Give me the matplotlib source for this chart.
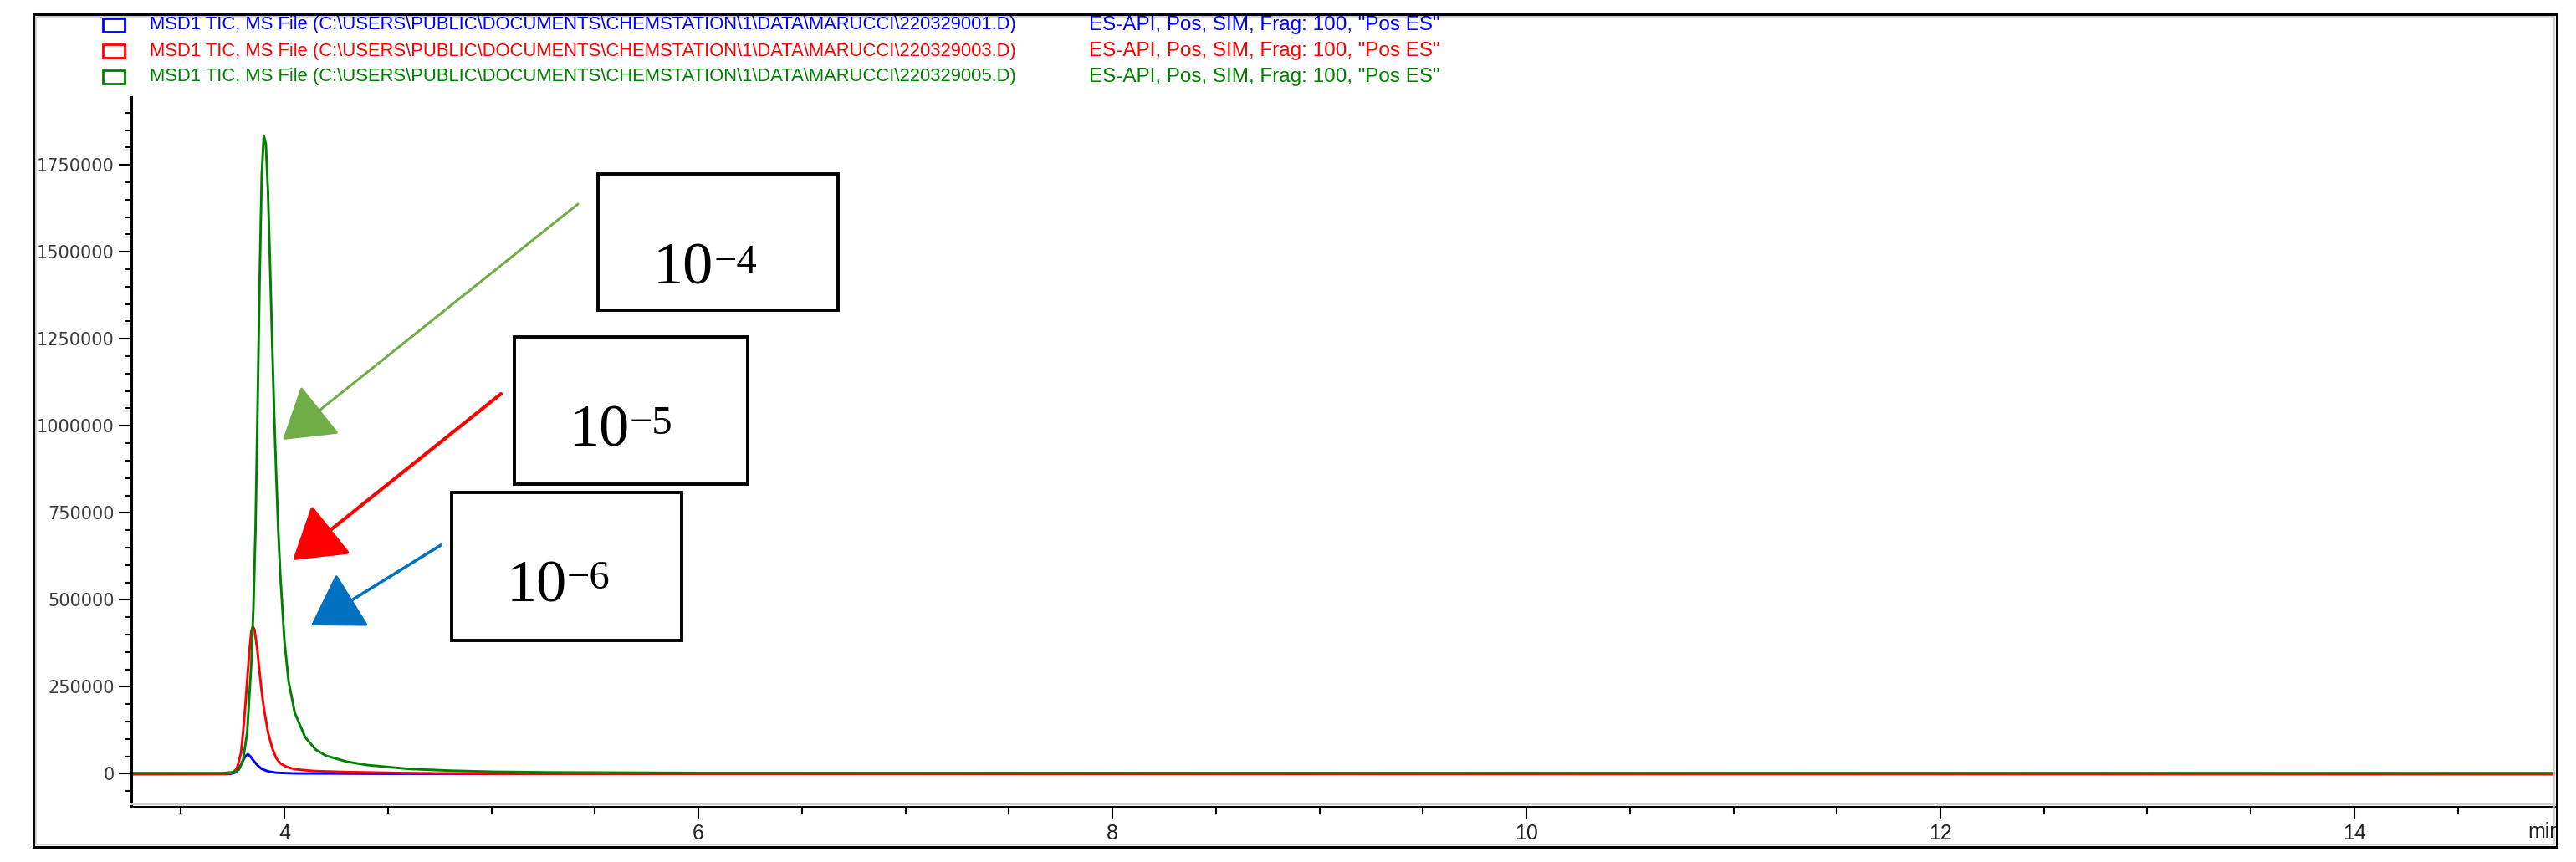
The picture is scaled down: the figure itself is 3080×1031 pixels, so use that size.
import matplotlib
matplotlib.use('Agg')
import matplotlib.pyplot as plt
from matplotlib.patches import Rectangle, FancyArrowPatch
from matplotlib.lines import Line2D
from matplotlib.ticker import MultipleLocator, FuncFormatter
from matplotlib.transforms import Bbox

t_blue = [3.25, 3.74, 3.76, 3.78, 3.80, 3.81, 3.823, 3.835, 3.85, 3.87, 3.89, 3.92, 3.96, 4.05, 4.5, 15.0]
i_blue = [0, 0, 3000, 15000, 38000, 50000, 56600, 50000, 38000, 24000, 14000, 7000, 3000, 1000, 0, 0]

t_red = [3.25, 3.72, 3.75, 3.77, 3.79, 3.80, 3.81, 3.82, 3.83, 3.84, 3.847, 3.855, 3.87, 3.88, 3.89,
         3.90, 3.92, 3.94, 3.96, 3.98, 4.01, 4.05, 4.14, 4.30, 4.60, 5.00, 15.0]
i_red = [-1500, -1000, 3000, 15000, 60000, 120000, 190000, 270000, 350000, 410000, 423000, 415000, 350000,
         290000, 235000, 190000, 120000, 75000, 45000, 30000, 20000, 13000, 8000, 5000, 2000, 0, -1500]

t_green = [3.25, 3.70, 3.76, 3.78, 3.80, 3.82, 3.84, 3.85, 3.86, 3.87, 3.88, 3.89, 3.90, 3.91, 3.92,
           3.93, 3.94, 3.95, 3.96, 3.97, 3.98, 4.00, 4.02, 4.05, 4.10, 4.15, 4.20, 4.30, 4.40, 4.60,
           4.80, 5.00, 5.30, 6.00, 15.0]
i_green = [2000, 2000, 5000, 12000, 40000, 120000, 320000, 480000, 700000, 1050000, 1420000, 1720000,
           1834000, 1810000, 1680000, 1470000, 1250000, 1040000, 860000, 700000, 570000, 380000, 265000,
           175000, 105000, 70000, 52000, 35000, 25000, 14000, 9000, 6000, 4000, 2500, 2000]

files = [r"MSD1 TIC, MS File (C:\USERS\PUBLIC\DOCUMENTS\CHEMSTATION\1\DATA\MARUCCI\220329001.D)",
         r"MSD1 TIC, MS File (C:\USERS\PUBLIC\DOCUMENTS\CHEMSTATION\1\DATA\MARUCCI\220329003.D)",
         r"MSD1 TIC, MS File (C:\USERS\PUBLIC\DOCUMENTS\CHEMSTATION\1\DATA\MARUCCI\220329005.D)"]
method = 'ES-API, Pos, SIM, Frag: 100, "Pos ES"'
dilutions = ['4', '5', '6']

W, H = 3080, 1031
fig = plt.figure(figsize=(W / 100, H / 100), dpi=100)


def fx(px):
    return px / W


def fy(py):
    return 1 - py / H


ax = fig.add_axes([fx(157), fy(965), fx(3055) - fx(157), fy(116) - fy(965)])
ax.plot(t_blue, i_blue, color='#0000ff', lw=2.1)
ax.plot(t_red, i_red, color='#ff0000', lw=2.1)
ax.plot(t_green, i_green, color='#008000', lw=2.1)

ax.set_xlim(3.26, 14.97)
ax.set_ylim(-95000, 1945000)
ax.spines['top'].set_visible(False)
ax.spines['right'].set_visible(False)
for s in ['left', 'bottom']:
    ax.spines[s].set_linewidth(2.2)
    ax.spines[s].set_color('black')

ax.xaxis.set_major_locator(MultipleLocator(2))
ax.xaxis.set_minor_locator(MultipleLocator(0.5))
ax.yaxis.set_major_locator(MultipleLocator(250000))
ax.yaxis.set_minor_locator(MultipleLocator(50000))
ax.yaxis.set_major_formatter(FuncFormatter(lambda v, p: '%d' % v))
ax.tick_params(which='major', length=11, width=1.5, color='black')
ax.tick_params(which='minor', length=5.5, width=1.5, color='black')
ax.tick_params(axis='y', which='major', pad=3.5, labelsize=15, labelcolor='#3c3c3c')
ax.tick_params(axis='x', which='major', pad=3.5, labelsize=18, labelcolor='#222222')
for lab in ax.get_xticklabels():
    lab.set_family(['Liberation Sans Narrow', 'Liberation Sans'])

# light shadow above the bottom spine
fig.add_artist(Line2D([fx(157), fx(3055)], [fy(962), fy(962)], color='#d0d0d0', lw=1.5))

# outer frame
fig.add_artist(Rectangle((fx(40), fy(1013)), fx(3057) - fx(40), fy(17) - fy(1013),
                         fill=False, edgecolor='black', lw=2.2))
fig.add_artist(Rectangle((fx(43), fy(1010)), fx(3054) - fx(43), fy(20) - fy(1010),
                         fill=False, edgecolor='#c8c8c8', lw=1.2))

tmin = fig.text(fx(3022), fy(995), 'min', ha='left', va='center', fontsize=18,
                family=['Liberation Sans Narrow', 'Liberation Sans'], color='#222222')
tmin.set_clip_box(Bbox([[0, 0], [3056, H]]))

# legend rows
colors = ['#0000ff', '#ff0000', '#008000']
row_y = [30, 61, 92]
for k in range(3):
    fig.add_artist(Rectangle((fx(123), fy(row_y[k] + 8)), fx(149) - fx(123), fy(row_y[k] - 8) - fy(row_y[k] + 8),
                             fill=False, edgecolor=colors[k], lw=2))
    fig.text(fx(179), fy(row_y[k]), files[k], ha='left', va='center', fontsize=15.8,
             family='Liberation Sans', color=colors[k])
    fig.text(fx(1302), fy(row_y[k]), method, ha='left', va='center', fontsize=17.5,
             family='Liberation Sans', color=colors[k])

# annotation boxes
boxes = [(715, 208, 1002, 371), (615, 403, 894, 579), (540, 589, 815, 766)]
txt10 = [(781, 339), (681, 534), (606, 720)]
sup = [(854, 292), (753, 485), (678, 670)]
for k in range(3):
    x0, y0, x1, y1 = boxes[k]
    fig.add_artist(Rectangle((fx(x0), fy(y1)), fx(x1) - fx(x0), fy(y0) - fy(y1),
                             fill=False, edgecolor='black', lw=2.8))
    fig.text(fx(txt10[k][0]), fy(txt10[k][1]), '10', ha='left', va='baseline', fontsize=52,
             family='Liberation Serif', color='black')
    fig.text(fx(sup[k][0]), fy(sup[k][1]), '\u2212' + dilutions[k], ha='left', va='top', fontsize=35,
             family='Liberation Serif', color='black')

# arrows
arrows = [((691, 244), (338, 526), '#70ad47', 2.2),
          ((599, 471), (350, 670), '#ff0000', 3.0),
          ((527, 652), (372, 748), '#0070c0', 2.6)]
for (a, b, c, w) in arrows:
    fig.add_artist(FancyArrowPatch((fx(a[0]), fy(a[1])), (fx(b[0]), fy(b[1])), transform=fig.transFigure,
                                   arrowstyle='-|>,head_length=38,head_width=24', mutation_scale=1,
                                   color=c, lw=w, shrinkA=0, shrinkB=0))

fig.savefig('out.png', dpi=100)
